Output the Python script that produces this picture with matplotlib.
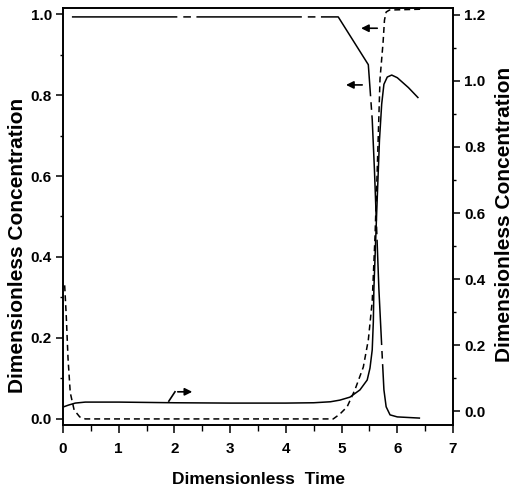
import matplotlib
matplotlib.use("Agg")
import matplotlib.pyplot as plt
from matplotlib.ticker import MultipleLocator

plt.rcParams['font.family'] = ['Liberation Sans', 'DejaVu Sans']
plt.rcParams['font.weight'] = 'bold'

# curve falling from ~1 to 0 (left axis, long dashes)
a_x = [0.16, 4.94, 5.48, 5.55, 5.59, 5.67, 5.73, 5.76, 5.80, 5.87, 6.0, 6.41]
a_y = [0.993, 0.993, 0.875, 0.74, 0.615, 0.32, 0.153, 0.072, 0.03, 0.01, 0.005, 0.002]

# solid curve with peak (right axis)
b_x = [0.0, 0.1, 0.22, 0.4, 1.0, 2.0, 3.0, 4.0, 4.5, 4.8, 4.97, 5.15, 5.33, 5.46,
       5.51, 5.55, 5.57, 5.58, 5.63, 5.68, 5.72, 5.76, 5.82, 5.9, 6.0, 6.2, 6.37]
b_y = [0.012, 0.018, 0.024, 0.027, 0.027, 0.025, 0.024, 0.024, 0.025, 0.028, 0.033,
       0.042, 0.064, 0.094, 0.13, 0.185, 0.27, 0.37, 0.6, 0.82, 0.93, 0.99, 1.012,
       1.018, 1.01, 0.98, 0.95]

# short dashed curve (left axis)
c_x = [0.03, 0.06, 0.09, 0.13, 0.2, 0.3, 0.4, 1.0, 2.0, 3.0, 4.0, 4.85, 4.97, 5.1,
       5.24, 5.39, 5.48, 5.55, 5.6, 5.64, 5.69, 5.745, 5.77, 5.8, 5.86, 6.41]
c_y = [0.33, 0.25, 0.15, 0.065, 0.022, 0.005, 0.0, 0.0, 0.0, 0.0, 0.0, 0.0, 0.012,
       0.03, 0.072, 0.128, 0.195, 0.29, 0.45, 0.615, 0.84, 0.93, 0.985, 1.005, 1.01,
       1.012]

x_ticks = [0, 1, 2, 3, 4, 5, 6, 7]
left_ticks = [0.0, 0.2, 0.4, 0.6, 0.8, 1.0]
right_ticks = [0.0, 0.2, 0.4, 0.6, 0.8, 1.0, 1.2]

fig = plt.figure(figsize=(5.23, 4.95), dpi=100)
ax = fig.add_axes([63 / 523, 70 / 495, 390 / 523, 417 / 495])
ax2 = ax.twinx()

la, = ax.plot(a_x, a_y, color='black', lw=1.1)
la.set_dashes([69, 3.9, 5, 3.6])
lc, = ax.plot(c_x, c_y, color='black', lw=1.1)
lc.set_dashes([3.9, 2.6])
ax2.plot(b_x, b_y, color='black', lw=1.1)

ax.set_xlim(0, 7)
ax.set_ylim(-0.015, 1.015)
ax2.set_ylim(-0.0424, 1.2212)

ax.set_xticks(x_ticks)
ax.set_yticks(left_ticks)
ax.set_yticklabels([f"{v:.1f}" for v in left_ticks])
ax2.set_yticks(right_ticks)
ax2.set_yticklabels([f"{v:.1f}" for v in right_ticks])
ax.xaxis.set_minor_locator(MultipleLocator(0.5))
ax.yaxis.set_minor_locator(MultipleLocator(0.1))
ax2.yaxis.set_minor_locator(MultipleLocator(0.1))

for a in (ax, ax2):
    a.tick_params(which='major', direction='out', length=5, width=1.1, labelsize=11, pad=3)
    a.tick_params(which='minor', direction='out', length=2.5, width=1.0)
    for s in a.spines.values():
        s.set_linewidth(1.2)
ax.tick_params(axis='x', which='major', length=6, pad=6)
ax.tick_params(axis='x', which='minor', length=4)
ax.tick_params(right=False, top=False, which='both')
ax2.tick_params(left=False, which='both')
for lab in ax.get_xticklabels() + ax.get_yticklabels() + ax2.get_yticklabels():
    lab.set_fontweight('bold')

# arrows pointing to the axis each curve uses
arrow = dict(arrowstyle='-|>', lw=1.2, color='black', mutation_scale=11)
ax.annotate('', xy=(5.30, 0.965), xytext=(5.69, 0.965), arrowprops=arrow)
ax.annotate('', xy=(5.03, 0.825), xytext=(5.42, 0.825), arrowprops=arrow)
ax.plot([1.90, 2.01], [0.044, 0.067], color='black', lw=1.2)
ax.annotate('', xy=(2.37, 0.067), xytext=(2.01, 0.067), arrowprops=arrow)

fig.text(258 / 523, 1 - 479 / 495, 'Dimensionless  Time', ha='center', va='center',
         fontsize=12.5, fontweight='bold')
fig.text(18 / 523, 1 - 245 / 495, 'Dimensionless Concentration', ha='center',
         va='center', rotation=90, fontsize=15, fontweight='bold')
fig.text(505 / 523, 1 - 214 / 495, 'Dimensionless Concentration', ha='center',
         va='center', rotation=90, fontsize=15, fontweight='bold')

fig.savefig('out.png', dpi=100)
